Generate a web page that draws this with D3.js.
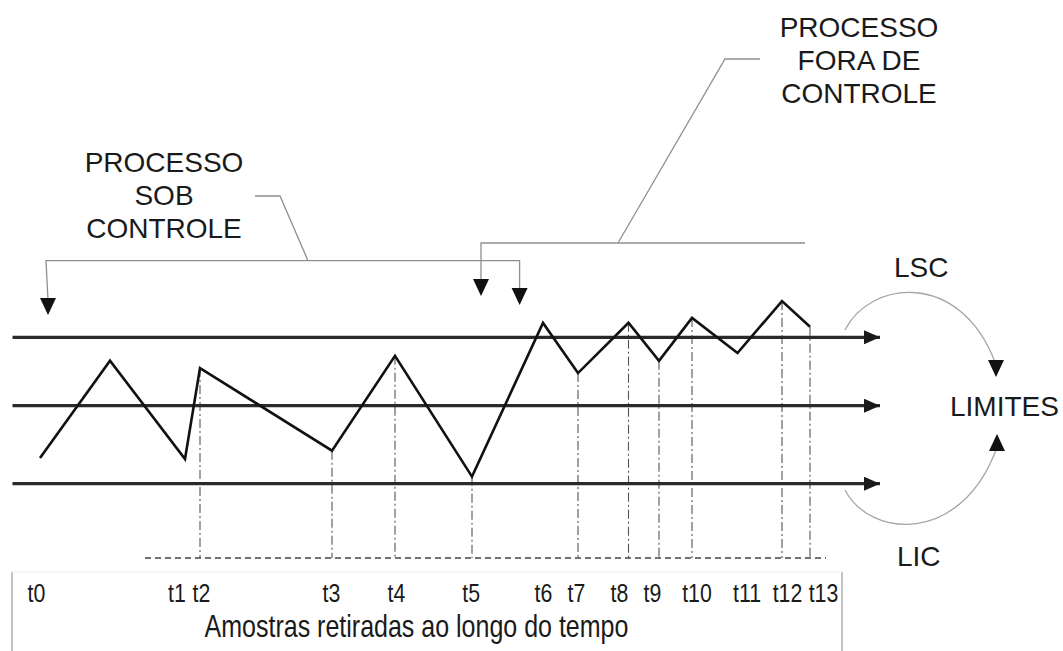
<!DOCTYPE html>
<html>
<head>
<meta charset="utf-8">
<script src="https://cdn.jsdelivr.net/npm/d3@7"></script>
<style>
  body { margin: 0; background: #fff; }
  text { font-family: "Liberation Sans", Arial, sans-serif; fill: #1a1a1a; }
</style>
</head>
<body>
<div id="chart"></div>
<script>
// samples along time (arbitrary time units) and measured value (sigma units)
var times = [0, 14, 29, 32, 58.4, 71, 86.4, 100.6, 107.6, 117.7, 123.8, 130.4, 139.5, 148.4, 154];
var values = [-2.29, 1.97, -2.34, 1.65, -1.97, 2.19, -3.11, 3.63, 1.43, 3.64, 1.97, 3.85, 2.31, 4.59, 3.46];
var pointLabels = ['t0', '', 't1', 't2', 't3', 't4', 't5', 't6', 't7', 't8', 't9', 't10', 't11', 't12', 't13'];
var dropLabels = ['t2', 't3', 't4', 't5', 't7', 't8', 't9', 't10', 't12', 't13'];

// control limits
var limitNames = ['LSC', 'LC', 'LIC'];
var limitValues = [3, 0, -3.42];

var axisTitle = 'Amostras retiradas ao longo do tempo';
var underControl = ['PROCESSO', 'SOB', 'CONTROLE'];
var outOfControl = ['PROCESSO', 'FORA DE', 'CONTROLE'];

var width = 1063,
	height = 651;

var svg = d3.select('#chart').append('svg')
	.attr('width', width)
	.attr('height', height);

var x = d3.scaleLinear()
	.domain([-5.5, 168])
	.range([12.5, 880]);

var y = d3.scaleLinear()
	.domain([-3.42, 3])
	.range([483.7, 337.3]);

var baseY = 558;
var NARROW = 0.82; // bottom texts are a condensed face

var pts = times.map(function(t, i) {
	return { t: t, v: values[i], label: pointLabels[i] };
});

// arrow head for the limit lines
svg.append('defs').append('marker')
	.attr('id', 'arrow')
	.attr('markerUnits', 'userSpaceOnUse')
	.attr('viewBox', '0 0 16 14')
	.attr('refX', 16)
	.attr('refY', 7)
	.attr('markerWidth', 16)
	.attr('markerHeight', 14)
	.attr('orient', 'auto')
	.append('path')
	.attr('d', 'M0,0 L16,7 L0,14 Z')
	.attr('fill', '#1a1a1a');

// drop lines down to the time axis
svg.append('g')
	.selectAll('line')
	.data(pts.filter(d => dropLabels.indexOf(d.label) >= 0))
	.enter()
	.append('line')
	.attr('x1', d => x(d.t))
	.attr('x2', d => x(d.t))
	.attr('y1', d => y(d.v))
	.attr('y2', baseY)
	.attr('stroke', '#555')
	.attr('stroke-width', 1.1)
	.attr('stroke-dasharray', '9,3,2,3');

// dashed time baseline
svg.append('line')
	.attr('x1', x(21))
	.attr('x2', x(157.2))
	.attr('y1', baseY)
	.attr('y2', baseY)
	.attr('stroke', '#444')
	.attr('stroke-width', 1.4)
	.attr('stroke-dasharray', '6,4');

// limit lines
svg.append('g')
	.selectAll('line')
	.data(limitValues)
	.enter()
	.append('line')
	.attr('x1', x.range()[0])
	.attr('x2', x.range()[1])
	.attr('y1', d => y(d))
	.attr('y2', d => y(d))
	.attr('stroke', '#2a2a2a')
	.attr('stroke-width', 3.2)
	.attr('marker-end', 'url(#arrow)');

// the process
var line = d3.line()
	.x(d => x(d.t))
	.y(d => y(d.v));

svg.append('path')
	.datum(pts)
	.attr('d', line)
	.attr('fill', 'none')
	.attr('stroke', '#111')
	.attr('stroke-width', 2.6)
	.attr('stroke-linejoin', 'miter');

// label box
var box = svg.append('g').attr('stroke', '#9a9a9a').attr('stroke-width', 1.2);
box.append('line').attr('x1', 12).attr('x2', 12).attr('y1', 572).attr('y2', height);
box.append('line').attr('x1', 842).attr('x2', 842).attr('y1', 572).attr('y2', height);
box.append('line').attr('x1', 12).attr('x2', 842).attr('y1', 572).attr('y2', 572)
	.attr('stroke', '#ececec');

// time labels
var nudge = { t0: -4, t1: -8.5, t2: 1, t3: -1, t4: 1, t5: -1.4, t7: -2, t8: -9.5, t9: -7, t10: 4.5, t11: 9, t12: 5, t13: 13 };
var labelled = pts.filter(d => d.label !== '');

var axis = d3.axisBottom(x)
	.tickValues(labelled.map(d => d.t))
	.tickFormat(function(d, i) { return labelled[i].label; })
	.tickSize(0)
	.tickPadding(0);

var gAxis = svg.append('g')
	.attr('transform', 'translate(0,602)')
	.call(axis);
gAxis.select('.domain').remove();
gAxis.selectAll('text')
	.attr('dy', 0)
	.attr('y', 0)
	.attr('transform', function(d, i) {
		return 'translate(' + (nudge[labelled[i].label] || 0) + ',0) scale(' + NARROW + ',1)';
	})
	.attr('fill', '#1a1a1a')
	.style('font-size', '26px')
	.style('font-family', '"Liberation Sans", Arial, sans-serif');

svg.append('text')
	.attr('transform', 'translate(416.5,637) scale(' + NARROW + ',1)')
	.attr('text-anchor', 'middle')
	.style('font-size', '30.5px')
	.text(axisTitle);

// annotations
var grey = '#8f8f8f';

function tri(g, tx, ty) {
	g.append('path')
		.attr('d', 'M' + (tx - 8) + ',' + (ty - 17) + ' L' + (tx + 8) + ',' + (ty - 17) + ' L' + tx + ',' + ty + ' Z')
		.attr('fill', '#111');
}

function block(lines, cx, y0) {
	svg.append('text')
		.attr('text-anchor', 'middle')
		.style('font-size', '28px')
		.selectAll('tspan')
		.data(lines)
		.enter()
		.append('tspan')
		.attr('x', cx)
		.attr('y', (d, i) => y0 + i * 33)
		.text(d => d);
}

block(underControl, 164, 172);
block(outOfControl, 859, 37);

var ann = svg.append('g');
ann.append('path')
	.attr('d', 'M255,196 H280 L308,260.7')
	.attr('fill', 'none').attr('stroke', grey).attr('stroke-width', 1.3);
ann.append('path')
	.attr('d', 'M48,300 L46,260.7 H519.6 V290')
	.attr('fill', 'none').attr('stroke', grey).attr('stroke-width', 1.3);
ann.append('path')
	.attr('d', 'M760,59 H725 L618,243')
	.attr('fill', 'none').attr('stroke', grey).attr('stroke-width', 1.3);
ann.append('path')
	.attr('d', 'M481,282 V243 H805')
	.attr('fill', 'none').attr('stroke', grey).attr('stroke-width', 1.3);
tri(ann, 48, 315);
tri(ann, 519.6, 305);
tri(ann, 481, 296);

// limits callout
svg.append('text').attr('x', 894).attr('y', 277).style('font-size', '28px').text(limitNames[0]);
svg.append('text').attr('x', 950).attr('y', 416).style('font-size', '28px').text('LIMITES');
svg.append('text').attr('x', 897).attr('y', 566).style('font-size', '28px').text(limitNames[2]);

ann.append('path')
	.attr('d', 'M845,330 C870,280 960,270 995,362')
	.attr('fill', 'none').attr('stroke', '#a5a5a5').attr('stroke-width', 1.3);
ann.append('path')
	.attr('d', 'M845,490 C870,538 960,545 996,450')
	.attr('fill', 'none').attr('stroke', '#a5a5a5').attr('stroke-width', 1.3);
ann.append('path')
	.attr('d', 'M988,360 L1004,360 L996,377 Z')
	.attr('fill', '#111');
ann.append('path')
	.attr('d', 'M989,451 L1005,451 L997,434 Z')
	.attr('fill', '#111');
</script>
</body>
</html>
